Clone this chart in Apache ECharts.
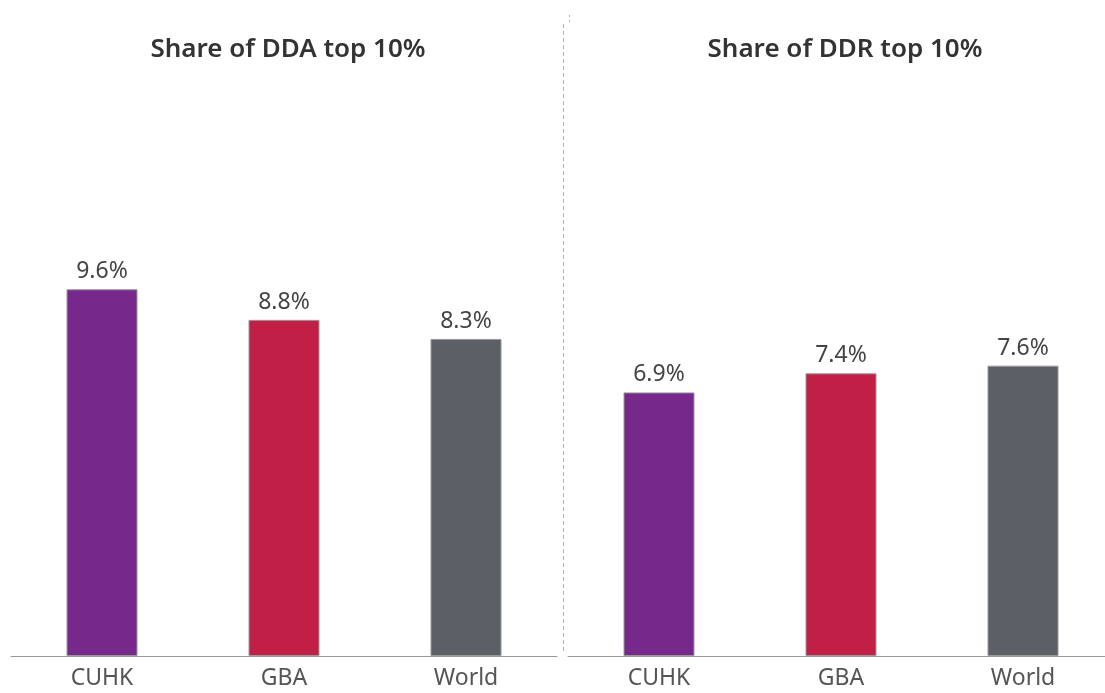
<!DOCTYPE html>
<html>
<head>
<meta charset="utf-8">
<script src="https://cdn.jsdelivr.net/npm/echarts@6/dist/echarts.min.js"></script>
<style>
  html, body { margin: 0; padding: 0; background: #fff; overflow: hidden; }
  /* 画布比窗口略宽,右侧轴线延伸到边缘外 */
  #main { width: 1114px; height: 693px; }
</style>
</head>
<body>
<div id="main"></div>
<script>
// 数据
var categories = ['CUHK', 'GBA', 'World'];
var ddaShare = [9.6, 8.8, 8.3];
var ddrShare = [6.9, 7.4, 7.6];
var barColors = ['#76298a', '#c21f46', '#5b5f66'];
var panelTitles = ['Share of DDA top 10%', 'Share of DDR top 10%'];

var chart = echarts.init(document.getElementById('main'));
var font = '"Noto Sans", "Open Sans", sans-serif';

function toData(vals) {
  return vals.map(function (v, i) {
    return { value: v, itemStyle: { color: barColors[i] } };
  });
}

function xAxisFor(idx) {
  return {
    type: 'category',
    gridIndex: idx,
    data: categories,
    axisLine: { lineStyle: { color: '#999', width: 1 } },
    axisTick: { show: false },
    axisLabel: { color: '#555', fontFamily: font, fontSize: 23, margin: 11 }
  };
}

function yAxisFor(idx) {
  return { type: 'value', gridIndex: idx, min: 0, max: 15, show: false };
}

function seriesFor(idx, vals) {
  return {
    type: 'bar',
    xAxisIndex: idx,
    yAxisIndex: idx,
    barWidth: 71,
    data: toData(vals),
    itemStyle: { borderColor: '#999', borderWidth: 1 },
    label: {
      show: true,
      position: 'top',
      distance: 6,
      color: '#444',
      fontFamily: font,
      fontSize: 23,
      formatter: function (p) { return p.value.toFixed(1) + '%'; }
    }
  };
}

var titleStyle = { fontFamily: font, fontSize: 26, fontWeight: 600, color: '#333' };

var option = {
  animation: false,
  title: [
    { text: panelTitles[0], left: 283, top: 32, textAlign: 'center', textStyle: titleStyle },
    { text: panelTitles[1], left: 840, top: 32, textAlign: 'center', textStyle: titleStyle }
  ],
  grid: [
    { left: 11, width: 546, top: 83, bottom: 37 },
    { left: 568, width: 546, top: 83, bottom: 37 }
  ],
  xAxis: [xAxisFor(0), xAxisFor(1)],
  yAxis: [yAxisFor(0), yAxisFor(1)],
  series: [seriesFor(0, ddaShare), seriesFor(1, ddrShare)],
  // 中间的虚线分隔
  graphic: [
    {
      type: 'line',
      shape: { x1: 563.5, y1: 24, x2: 563.5, y2: 654 },
      style: { stroke: '#a9b4c0', lineWidth: 1, lineDash: [4, 3] }
    },
    {
      type: 'line',
      shape: { x1: 569.5, y1: 15, x2: 569.5, y2: 22 },
      style: { stroke: '#a9b4c0', lineWidth: 1, lineDash: [2, 3] }
    }
  ]
};

chart.setOption(option);
</script>
</body>
</html>
